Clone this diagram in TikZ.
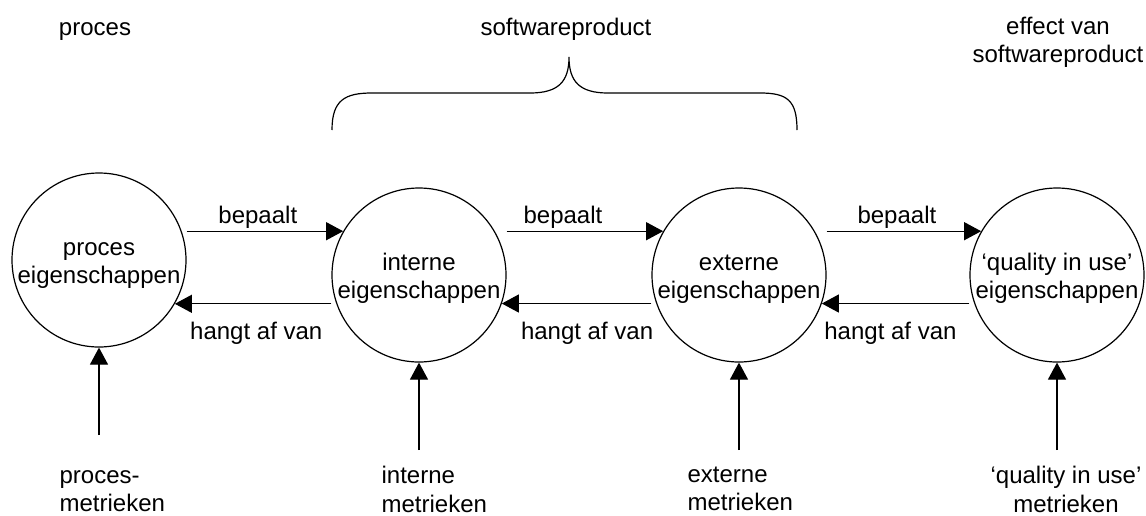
\documentclass[tikz,border=0pt]{standalone}
\usepackage{fontspec}
\setmainfont{Liberation Sans}
\usetikzlibrary{arrows.meta}

\begin{document}
\begin{tikzpicture}[x=0.5pt,y=-0.5pt,line width=0.6pt,
    font=\fontsize{12}{14}\selectfont,
    prop/.style={draw,circle,minimum size=87pt,inner sep=0pt,align=center},
    pijl/.style={-{Triangle[length=8.5pt,width=9pt]}},
    lbl/.style={align=left,anchor=north west,inner sep=0pt}]
  \useasboundingbox (0,0) rectangle (1146,515);
  % titels
  \node[anchor=base,inner sep=0pt] (tproces) at (95,35) {proces};
  \node[anchor=base,inner sep=0pt] (tproduct) at (566,35) {softwareproduct};
  \node[anchor=north,align=center,inner sep=0pt] (teffect) at (1058,17) {effect van\\softwareproduct};
  \draw (332,130) .. controls (332,100) and (345,93) .. (372,93) -- (530,93)
     .. controls (558,93) and (569,82) .. (569,57)
     .. controls (569,82) and (580,93) .. (608,93) -- (760,93)
     .. controls (787,93) and (797,100) .. (797,130);
  % eigenschappen
  \node[prop] (pe) at (99,260) {\rule{0pt}{12pt}proces\\eigenschappen};
  \node[prop] (ie) at (419,275) {\rule{0pt}{12pt}interne\\eigenschappen};
  \node[prop] (ee) at (739,275) {\rule{0pt}{12pt}externe\\eigenschappen};
  \node[prop] (qe) at (1057,275) {\rule{0pt}{12pt}‘quality in use’\\eigenschappen};
  \draw[pijl] (pe.east |- ie.150.4) -- node[above,inner sep=1pt,pos=.455] (b1) {bepaalt} (ie.150.4);
  \draw[pijl] (ie.east |- ee.150.4) -- node[above,inner sep=1pt,pos=.36] (b2) {bepaalt} (ee.150.4);
  \draw[pijl] (ee.east |- qe.150.4) -- node[above,inner sep=1pt,pos=.455] (b3) {bepaalt} (qe.150.4);
  \draw[pijl] (ie.west |- pe.-30.4) -- node[below=6.75pt,inner sep=2pt,pos=.48] (h1) {hangt af van} (pe.-30.4);
  \draw[pijl] (ee.west |- ie.-19.5) -- node[below=6.75pt,inner sep=2pt,pos=.43] (h2) {hangt af van} (ie.-19.5);
  \draw[pijl] (qe.west |- ee.-19.5) -- node[below=6.75pt,inner sep=2pt,pos=.535] (h3) {hangt af van} (ee.-19.5);
  % metrieken
  \coordinate (mp) at (99,435);
  \coordinate (mi) at (419,450);
  \coordinate (me) at (739,450);
  \coordinate (mq) at (1057,450);
  \draw[pijl] (mp) -- (pe.south);
  \draw[pijl] (mi) -- (ie.south);
  \draw[pijl] (me) -- (ee.south);
  \draw[pijl] (mq) -- (qe.south);
  \node[lbl] (mproces) at (59,470) {proces-\\metrieken};
  \node[lbl] (mintern) at (381,466) {interne\\metrieken};
  \node[lbl] (mextern) at (687,466) {externe\\metrieken};
  \node[anchor=north,align=center,inner sep=0pt] (mquality) at (1066,466) {‘quality in use’\\metrieken};
\end{tikzpicture}
\end{document}
